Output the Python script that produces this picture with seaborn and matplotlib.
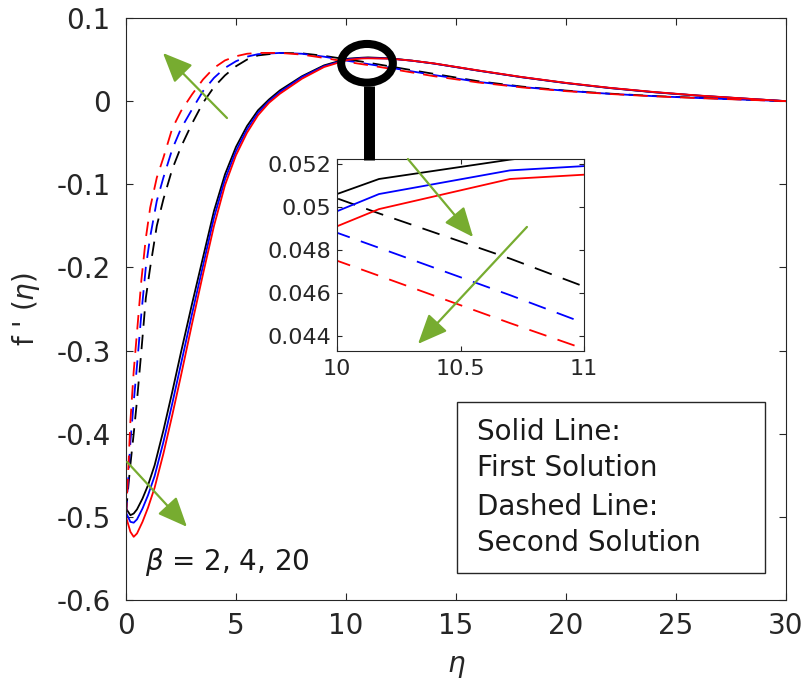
import numpy as np
import pandas as pd
import matplotlib
matplotlib.use("Agg")
import matplotlib.pyplot as plt
import seaborn as sns
from matplotlib.patches import Ellipse, Rectangle
from matplotlib.lines import Line2D

# ---------------- data ----------------
betas = ["2", "4", "20"]
beta_colors = ["black", "blue", "red"]

eta_first = [0, 0.2, 0.35, 0.5, 0.75, 1.0, 1.3, 1.7, 2.1, 2.5, 3.0, 3.5, 4.0, 4.5,
             5.0, 5.5, 6.0, 6.5, 7.0, 8.0, 9.0, 10.0, 10.17, 10.7, 11.0, 12, 13, 14,
             16, 18, 20, 22, 24, 26, 28, 30]
first_b2 = [-0.490, -0.498, -0.496, -0.491, -0.478, -0.462, -0.438, -0.396, -0.350,
            -0.302, -0.244, -0.188, -0.132, -0.088, -0.055, -0.030, -0.011, 0.002,
            0.013, 0.030, 0.043, 0.0506, 0.0513, 0.0522, 0.0526, 0.0515, 0.0487,
            0.0452, 0.0367, 0.0287, 0.0217, 0.0157, 0.0107, 0.0066, 0.0032, 0.0]
first_b4 = [-0.495, -0.506, -0.507, -0.503, -0.490, -0.474, -0.451, -0.410, -0.364,
            -0.316, -0.256, -0.198, -0.140, -0.094, -0.060, -0.034, -0.014, 0.000,
            0.011, 0.029, 0.042, 0.0498, 0.0506, 0.0517, 0.0519, 0.0512, 0.0486,
            0.0452, 0.0368, 0.0288, 0.0218, 0.0158, 0.0108, 0.0067, 0.0033, 0.0]
first_b20 = [-0.500, -0.518, -0.524, -0.520, -0.506, -0.489, -0.465, -0.424, -0.378,
             -0.330, -0.268, -0.208, -0.150, -0.101, -0.065, -0.038, -0.017, -0.002,
             0.009, 0.027, 0.041, 0.0491, 0.0499, 0.0513, 0.0515, 0.0511, 0.0487,
             0.0454, 0.0370, 0.0290, 0.0220, 0.0160, 0.0110, 0.0068, 0.0034, 0.0]

eta_second = [0, 0.1, 0.2, 0.35, 0.5, 0.7, 0.9, 1.1, 1.4, 1.7, 2.1, 2.5, 3.0, 3.5,
              4.0, 4.5, 5.0, 5.5, 6.0, 7.0, 8.0, 9.0, 10.0, 10.17, 10.7, 11.0, 12,
              13, 14, 16, 18, 20, 22, 24, 26, 28, 30]
second_b2 = [-0.495, -0.465, -0.437, -0.400, -0.360, -0.300, -0.237, -0.200, -0.150,
             -0.118, -0.082, -0.055, -0.027, -0.002, 0.017, 0.031, 0.042, 0.050,
             0.055, 0.058, 0.0575, 0.0545, 0.0504, 0.0497, 0.0476, 0.0463, 0.0418,
             0.0372, 0.0328, 0.0240, 0.0175, 0.0127, 0.0090, 0.0062, 0.0040, 0.0020, 0.0]
second_b4 = [-0.498, -0.455, -0.410, -0.362, -0.318, -0.255, -0.200, -0.163, -0.120,
             -0.092, -0.058, -0.033, -0.010, 0.012, 0.028, 0.040, 0.048, 0.0535,
             0.0565, 0.058, 0.057, 0.0535, 0.0488, 0.0481, 0.0459, 0.0446, 0.0403,
             0.0358, 0.0314, 0.0232, 0.0170, 0.0124, 0.0088, 0.0060, 0.0038, 0.0019, 0.0]
second_b20 = [-0.500, -0.445, -0.385, -0.325, -0.278, -0.215, -0.165, -0.128, -0.092,
              -0.068, -0.033, -0.012, 0.008, 0.026, 0.040, 0.049, 0.054, 0.057,
              0.058, 0.058, 0.056, 0.052, 0.0475, 0.0468, 0.0446, 0.0434, 0.0390,
              0.0345, 0.0300, 0.0225, 0.0165, 0.0120, 0.0086, 0.0058, 0.0037, 0.0018, 0.0]

x_ticks = [0, 5, 10, 15, 20, 25, 30]
y_ticks = [-0.6, -0.5, -0.4, -0.3, -0.2, -0.1, 0, 0.1]
y_ticklabels = ["-0.6", "-0.5", "-0.4", "-0.3", "-0.2", "-0.1", "0", "0.1"]
inset_x_ticks = [10, 10.5, 11]
inset_x_ticklabels = ["10", "10.5", "11"]
inset_y_ticks = [0.044, 0.046, 0.048, 0.050, 0.052]
inset_y_ticklabels = ["0.044", "0.046", "0.048", "0.05", "0.052"]
legend_lines = ["Solid Line:", "First Solution", "Dashed Line:", "Second Solution"]
beta_label = r"$\beta$ = 2, 4, 20"

# ---------------- build long table ----------------
frames = []
for b, vals in zip(betas, [first_b2, first_b4, first_b20]):
    frames.append(pd.DataFrame({"eta": eta_first, "f": vals, "beta": b, "sol": "First"}))
for b, vals in zip(betas, [second_b2, second_b4, second_b20]):
    frames.append(pd.DataFrame({"eta": eta_second, "f": vals, "beta": b, "sol": "Second"}))
df = pd.concat(frames, ignore_index=True)

# ---------------- style ----------------
sns.set_style("ticks")
plt.rcParams["font.family"] = ["DejaVu Sans"]
plt.rcParams["axes.edgecolor"] = "#262626"
plt.rcParams["axes.linewidth"] = 0.8

fig = plt.figure(figsize=(8.1, 6.84), dpi=100)
ax = fig.add_axes([126 / 810, 1 - 600 / 684, 660 / 810, 582 / 684])

palette = dict(zip(betas, beta_colors))
sns.lineplot(data=df, x="eta", y="f", hue="beta", style="sol", hue_order=betas,
             style_order=["First", "Second"], palette=palette,
             dashes={"First": "", "Second": (8, 5)}, estimator=None, sort=False,
             linewidth=1.3, legend=False, ax=ax)

ax.set_xlim(0, 30)
ax.set_ylim(-0.6, 0.1)
ax.set_xticks(x_ticks)
ax.set_xticklabels([str(t) for t in x_ticks])
ax.set_yticks(y_ticks)
ax.set_yticklabels(y_ticklabels)
ax.tick_params(direction="in", length=5, width=0.8, labelsize=20, colors="#262626",
               top=True, right=True)
ax.tick_params(axis="y", pad=11)
ax.tick_params(axis="x", pad=9)
for s in ax.spines.values():
    s.set_visible(True)
ax.set_xlabel(r"$\eta$", fontsize=20, labelpad=8)
ax.set_ylabel(r"f ' ($\eta$)", fontsize=20, labelpad=10)

green = "#77AC30"
arrow_kw = dict(arrowstyle="-|>,head_length=0.65,head_width=0.28", color=green,
                lw=1.6, mutation_scale=28, shrinkA=0, shrinkB=0)
ax.annotate("", xy=(1.68, 0.0579), xytext=(4.59, -0.0203), arrowprops=arrow_kw)
ax.annotate("", xy=(2.77, -0.512), xytext=(0.05, -0.434), arrowprops=arrow_kw)

# text box
ax.add_patch(Rectangle((0.5015, 0.0464), 0.4665, 0.2938, transform=ax.transAxes,
                       fill=False, edgecolor="#262626", lw=1.0, zorder=5))
for txt, yy in zip(legend_lines, [0.289, 0.227, 0.160, 0.098]):
    ax.text(0.532, yy, txt, transform=ax.transAxes, fontsize=20, va="center",
            ha="left", color="#1a1a1a")
ax.text(0.029, 0.066, beta_label, transform=ax.transAxes, fontsize=20, va="center",
        ha="left", color="#1a1a1a")

# magnifier decoration
fig.add_artist(Ellipse((367 / 810, 1 - 63.3 / 684), 51.7 / 810, 38.7 / 684,
                       transform=fig.transFigure, fill=False, edgecolor="black",
                       lw=5.8, zorder=10))
fig.add_artist(Line2D([369 / 810, 369 / 810], [1 - 86 / 684, 1 - 160 / 684],
                      transform=fig.transFigure, color="black", lw=7.9,
                      solid_capstyle="butt", zorder=10))

# ---------------- inset ----------------
axin = fig.add_axes([337 / 810, 1 - 351 / 684, 247 / 810, 192 / 684])
sns.lineplot(data=df, x="eta", y="f", hue="beta", style="sol", hue_order=betas,
             style_order=["First", "Second"], palette=palette,
             dashes={"First": "", "Second": (10, 6.5)}, estimator=None, sort=False,
             linewidth=1.3, legend=False, ax=axin)
axin.set_xlim(10, 11)
axin.set_ylim(0.0433, 0.05223)
axin.set_xticks(inset_x_ticks)
axin.set_xticklabels(inset_x_ticklabels)
axin.set_yticks(inset_y_ticks)
axin.set_yticklabels(inset_y_ticklabels)
axin.tick_params(direction="in", length=3.5, width=0.8, labelsize=16, colors="#262626",
                 top=True, right=True)
axin.tick_params(axis="y", pad=4)
axin.tick_params(axis="x", pad=6)
axin.set_xlabel("")
axin.set_ylabel("")
for s in axin.spines.values():
    s.set_visible(True)
axin.set_facecolor("white")
axin.annotate("", xy=(10.551, 0.0486), xytext=(10.287, 0.05223), arrowprops=arrow_kw)
axin.annotate("", xy=(10.328, 0.04363), xytext=(10.769, 0.04907), arrowprops=arrow_kw)

fig.savefig("out.png", dpi=100)
